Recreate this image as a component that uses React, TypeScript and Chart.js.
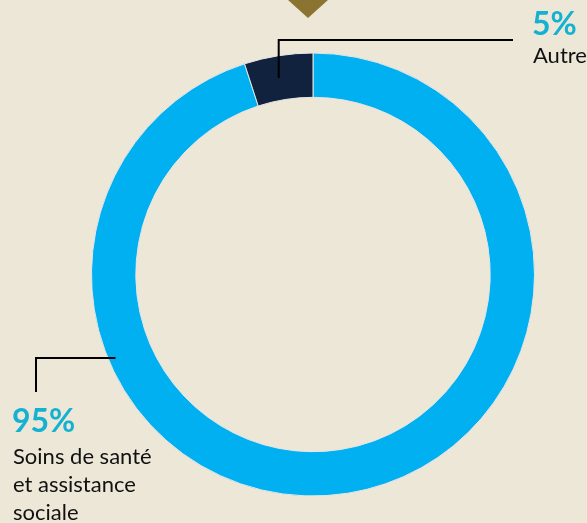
import React, { useEffect, useRef } from "react";
import { Chart, registerables } from "chart.js";

Chart.register(...registerables);

const categories = ["Soins de santé et assistance sociale", "Autre"];
const values = [95, 5];
const valueLabels = ["95%", "5%"];
const labelLines = [["Soins de santé", "et assistance", "sociale"], ["Autre"]];
const sliceColors = ["#00B0F0", "#10223D"];

const BG = "#EDE7D8";
const PCT_COLOR = "#14B1D3";
const FONT = "Lato, 'Open Sans', sans-serif";

const overlayPlugin = {
  id: "overlay",
  beforeDraw(chart: any) {
    const ctx = chart.ctx;
    ctx.save();
    ctx.fillStyle = BG;
    ctx.fillRect(0, 0, chart.width, chart.height);
    ctx.restore();
  },
  afterDraw(chart: any) {
    const ctx = chart.ctx;
    const meta = chart.getDatasetMeta(0);
    const big = meta.data[0];
    const small = meta.data[1];
    const cx = big.x;
    const cy = big.y;
    const R = big.outerRadius;
    ctx.save();
    // gold marker at top
    ctx.fillStyle = "#8B7331";
    ctx.beginPath();
    ctx.moveTo(cx - 25, 0);
    ctx.lineTo(cx + 15, 0);
    ctx.lineTo(cx - 5, 18);
    ctx.closePath();
    ctx.fill();

    ctx.strokeStyle = "#000";
    ctx.lineWidth = 2;
    // small slice leader
    const a = small.startAngle + 0.45 * (small.endAngle - small.startAngle);
    const sx = cx + Math.cos(a) * (R - 22);
    const sy = cy + Math.sin(a) * (R - 22);
    ctx.beginPath();
    ctx.moveTo(sx, sy);
    ctx.lineTo(sx, 40);
    ctx.lineTo(513, 40);
    ctx.stroke();
    // big slice leader
    ctx.beginPath();
    ctx.moveTo(cx - R + 24, 358);
    ctx.lineTo(36, 358);
    ctx.lineTo(36, 392);
    ctx.stroke();

    ctx.textBaseline = "alphabetic";
    ctx.textAlign = "left";
    // 5% label
    ctx.fillStyle = PCT_COLOR;
    ctx.font = `bold 32px ${FONT}`;
    ctx.fillText(valueLabels[1], 532, 35);
    ctx.fillStyle = "#111";
    ctx.font = `22px ${FONT}`;
    labelLines[1].forEach((t, i) => ctx.fillText(t, 533, 63 + i * 28));
    // 95% label
    ctx.fillStyle = PCT_COLOR;
    ctx.font = `bold 32px ${FONT}`;
    ctx.fillText(valueLabels[0], 12, 432);
    ctx.fillStyle = "#111";
    ctx.font = `22px ${FONT}`;
    labelLines[0].forEach((t, i) => ctx.fillText(t, 13, 464 + i * 28));
    ctx.restore();
  },
};

export default function App() {
  const ref = useRef<HTMLCanvasElement>(null);
  useEffect(() => {
    document.body.style.margin = "0";
    document.body.style.background = BG;
    const chart = new Chart(ref.current!, {
      type: "doughnut",
      data: {
        labels: categories,
        datasets: [
          {
            data: values,
            backgroundColor: sliceColors,
            borderColor: "#E6E6E6",
            borderWidth: 1,
          },
        ],
      },
      options: {
        animation: false,
        responsive: false,
        cutout: "80%",
        layout: { padding: { top: 52, bottom: 26, left: 91, right: 52 } },
        plugins: { legend: { display: false }, tooltip: { enabled: false } },
      },
      plugins: [overlayPlugin],
    });
    return () => chart.destroy();
  }, []);
  return <canvas ref={ref} width={587} height={523} style={{ display: "block" }} />;
}
